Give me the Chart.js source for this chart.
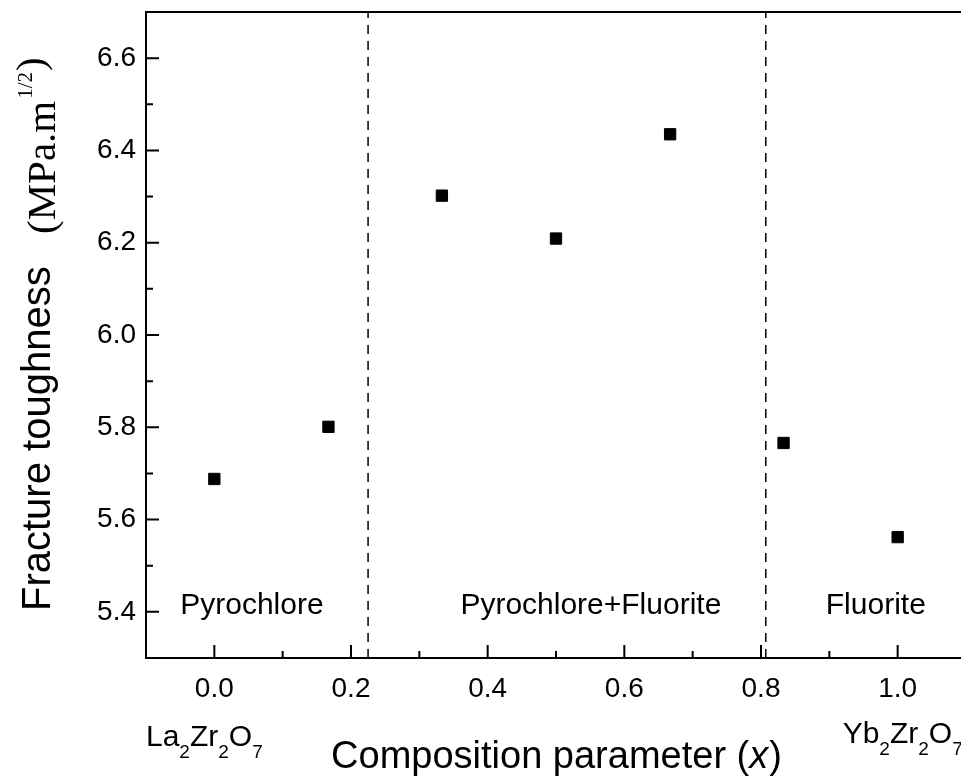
<!DOCTYPE html>
<html>
<head>
<meta charset="utf-8">
<script src="https://cdn.jsdelivr.net/npm/chart.js@4.4.1/dist/chart.umd.min.js"></script>
<style>
  html, body { margin: 0; padding: 0; background: #fff; overflow: hidden; }
  #wrap { position: absolute; left: 0; top: 0; width: 975px; height: 779px; }
</style>
</head>
<body>
<div id="wrap"><canvas id="toughness" width="975" height="779"></canvas></div>
<script>
// composition parameter x and measured fracture toughness (MPa.m^1/2)
const composition = [0, 0.167, 0.333, 0.5, 0.667, 0.833, 1.0];
const toughness = [5.688, 5.801, 6.302, 6.209, 6.435, 5.766, 5.562];

// phase boundaries and region names
const boundaries = [0.225, 0.807];
const phaseNames = ['Pyrochlore', 'Pyrochlore+Fluorite', 'Fluorite'];
const phaseX = [0.055, 0.551, 0.968];
const phaseY = 5.396;

const xTicks = [0, 0.2, 0.4, 0.6, 0.8, 1.0];
const yTicks = [5.4, 5.6, 5.8, 6.0, 6.2, 6.4, 6.6];
const xRange = [-0.1, 1.1];
const yRange = [5.3, 6.7];

const SANS = '"Liberation Sans", Arial, Helvetica, sans-serif';
const SERIF = '"Liberation Serif", "Times New Roman", serif';

function midpoints(arr) {
  const out = [];
  for (let i = 0; i < arr.length - 1; i++) out.push((arr[i] + arr[i + 1]) / 2);
  return out;
}

// chemical formula with subscript digits
function drawFormula(ctx, text, x, y, size, subSize, drop) {
  let cx = x;
  for (const ch of text) {
    const sub = /[0-9]/.test(ch);
    ctx.font = (sub ? subSize : size) + 'px ' + SANS;
    ctx.fillText(ch, cx, sub ? y + drop : y);
    cx += ctx.measureText(ch).width;
  }
  return cx - x;
}

function formulaWidth(ctx, text, size, subSize) {
  let w = 0;
  for (const ch of text) {
    ctx.font = (/[0-9]/.test(ch) ? subSize : size) + 'px ' + SANS;
    w += ctx.measureText(ch).width;
  }
  return w;
}

const decorations = {
  id: 'decorations',
  afterDraw(chart) {
    const { ctx, chartArea: a, scales: { x, y } } = chart;
    ctx.save();
    ctx.strokeStyle = '#000';
    ctx.fillStyle = '#000';
    ctx.lineWidth = 2;
    ctx.strokeRect(a.left, a.top, a.right - a.left, a.bottom - a.top);

    // inward tick marks
    ctx.beginPath();
    xTicks.forEach(v => { const px = x.getPixelForValue(v); ctx.moveTo(px, a.bottom); ctx.lineTo(px, a.bottom - 13); });
    midpoints(xTicks).forEach(v => { const px = x.getPixelForValue(v); ctx.moveTo(px, a.bottom); ctx.lineTo(px, a.bottom - 7); });
    yTicks.forEach(v => { const py = y.getPixelForValue(v); ctx.moveTo(a.left, py); ctx.lineTo(a.left + 13, py); });
    midpoints(yTicks).forEach(v => { const py = y.getPixelForValue(v); ctx.moveTo(a.left, py); ctx.lineTo(a.left + 7, py); });
    ctx.stroke();

    // phase region names
    ctx.font = '30px ' + SANS;
    ctx.textAlign = 'center';
    ctx.textBaseline = 'alphabetic';
    phaseNames.forEach((name, i) => {
      ctx.fillText(name, x.getPixelForValue(phaseX[i]), y.getPixelForValue(phaseY));
    });

    // end-member formulas under the axis
    ctx.textAlign = 'left';
    const la = 'La2Zr2O7', yb = 'Yb2Zr2O7';
    const laW = formulaWidth(ctx, la, 30, 19);
    drawFormula(ctx, la, x.getPixelForValue(0) - 10 - laW / 2, 746, 30, 19, 12);
    drawFormula(ctx, yb, x.getPixelForValue(1.0) - 55, 743, 30, 19, 12);

    // x axis title
    ctx.font = '38px ' + SANS;
    const t1 = 'Composition parameter (';
    const w1 = ctx.measureText(t1).width;
    ctx.font = 'italic 38px ' + SANS;
    const wx = ctx.measureText('x').width;
    ctx.font = '38px ' + SANS;
    const w3 = ctx.measureText(')').width;
    let tx = 556 - (w1 + wx + w3) / 2;
    ctx.fillText(t1, tx, 768);
    tx += w1;
    ctx.font = 'italic 38px ' + SANS;
    ctx.fillText('x', tx, 768);
    tx += wx + 1;
    ctx.font = '38px ' + SANS;
    ctx.fillText(')', tx, 768);

    // y axis title, rotated
    ctx.save();
    ctx.translate(50, 611);
    ctx.rotate(-Math.PI / 2);
    ctx.font = '40px ' + SANS;
    ctx.fillText('Fracture toughness', 0, 0);
    let ty = 377;
    ctx.font = '41px ' + SERIF;
    ctx.fillText('(MPa.m', ty, 5);
    ty += ctx.measureText('(MPa.m').width + 2;
    ctx.font = '21px ' + SERIF;
    ctx.fillText('1/2', ty, -18);
    ty += ctx.measureText('1/2').width + 1;
    ctx.font = '41px ' + SERIF;
    ctx.fillText(')', ty, -6);
    ctx.restore();

    ctx.restore();
  }
};

const tickFont = { family: SANS, size: 28 };

new Chart(document.getElementById('toughness'), {
  type: 'scatter',
  data: {
    datasets: [
      {
        data: composition.map((c, i) => ({ x: c, y: toughness[i] })),
        pointStyle: 'rect',
        pointRadius: 8,
        backgroundColor: '#000',
        borderColor: '#000',
        borderWidth: 1
      },
      ...boundaries.map(b => ({
        type: 'line',
        data: [{ x: b, y: yRange[0] }, { x: b, y: yRange[1] }],
        borderColor: '#000',
        borderWidth: 1.5,
        borderDash: [9, 7],
        pointRadius: 0,
        showLine: true
      }))
    ]
  },
  options: {
    responsive: false,
    animation: false,
    events: [],
    layout: { padding: { top: 12, right: 0, left: 0, bottom: 0 } },
    plugins: { legend: { display: false }, tooltip: { enabled: false } },
    scales: {
      x: {
        type: 'linear',
        min: xRange[0],
        max: xRange[1],
        afterBuildTicks: s => { s.ticks = xTicks.map(v => ({ value: v })); },
        afterFit: s => { s.height = 121; s.paddingLeft = 0; s.paddingRight = 0; },
        grid: { display: false },
        border: { display: false },
        ticks: { font: tickFont, color: '#000', padding: 6, autoSkip: false, maxRotation: 0, callback: v => v.toFixed(1) }
      },
      y: {
        type: 'linear',
        min: yRange[0],
        max: yRange[1],
        afterBuildTicks: s => { s.ticks = yTicks.map(v => ({ value: v })); },
        afterFit: s => { s.width = 146; s.paddingTop = 0; s.paddingBottom = 0; },
        grid: { display: false },
        border: { display: false },
        ticks: { font: tickFont, color: '#000', padding: 2, autoSkip: false, callback: v => v.toFixed(1) }
      }
    }
  },
  plugins: [decorations]
});
</script>
</body>
</html>
